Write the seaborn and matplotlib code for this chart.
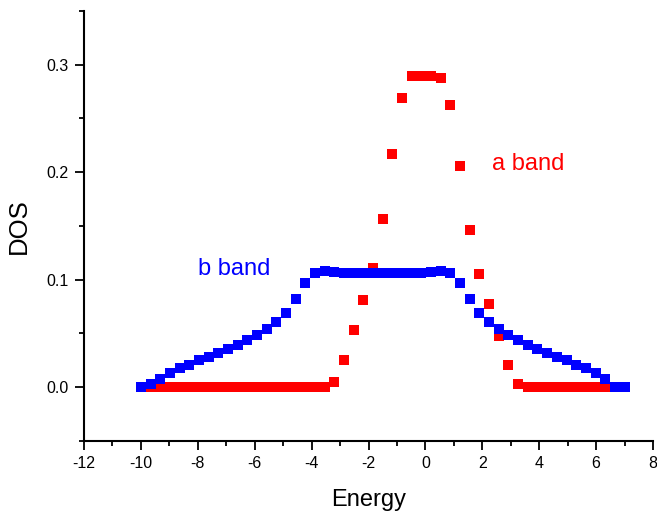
import matplotlib
matplotlib.use("Agg")
import matplotlib.pyplot as plt
import seaborn as sns
import pandas as pd
from matplotlib.ticker import MultipleLocator

# Datos
energy = [-10.00, -9.66, -9.32, -8.98, -8.64, -8.30, -7.96, -7.62, -7.28, -6.94,
          -6.60, -6.26, -5.92, -5.58, -5.24, -4.90, -4.56, -4.22, -3.88, -3.54,
          -3.20, -2.86, -2.52, -2.18, -1.84, -1.50, -1.16, -0.82, -0.48, -0.14,
          0.20, 0.54, 0.88, 1.22, 1.56, 1.90, 2.24, 2.58, 2.92, 3.26,
          3.60, 3.94, 4.28, 4.62, 4.96, 5.30, 5.64, 5.98, 6.32, 6.66, 7.00]

dos_a = [0, 0, 0, 0, 0, 0, 0, 0, 0, 0,
         0, 0, 0, 0, 0, 0, 0, 0, 0, 0,
         0.005, 0.025, 0.0535, 0.081, 0.111, 0.156, 0.217, 0.269, 0.289, 0.289,
         0.289, 0.287, 0.262, 0.206, 0.146, 0.1055, 0.077, 0.048, 0.021, 0.003,
         0, 0, 0, 0, 0, 0, 0, 0, 0, 0, 0]

dos_b = [0, 0.003, 0.008, 0.0133, 0.0174, 0.021, 0.025, 0.028, 0.032, 0.0356,
         0.0396, 0.0443, 0.049, 0.054, 0.061, 0.069, 0.082, 0.0966, 0.1061, 0.108,
         0.107, 0.106, 0.1058, 0.1058, 0.1058, 0.1058, 0.1058, 0.1058, 0.1058, 0.1058,
         0.1075, 0.108, 0.106, 0.0966, 0.082, 0.069, 0.061, 0.054, 0.049, 0.0443,
         0.0396, 0.0356, 0.032, 0.028, 0.025, 0.021, 0.0176, 0.0133, 0.008, 0, 0]

df = pd.DataFrame({"Energy": energy, "a": dos_a, "b": dos_b})

sns.set_style("ticks")
plt.rcParams["font.family"] = ["Liberation Sans", "DejaVu Sans"]
plt.rcParams["axes.unicode_minus"] = False

fig = plt.figure(figsize=(6.57, 5.11), dpi=100)
ax = fig.add_axes([0.1279, 0.137, 0.866, 0.842])

sns.scatterplot(data=df, x="Energy", y="a", marker="s", color="#ff0000",
                s=49, linewidth=0, ax=ax, clip_on=False)
sns.scatterplot(data=df, x="Energy", y="b", marker="s", color="#0000ff",
                s=49, linewidth=0, ax=ax, clip_on=False)

ax.text(2.34, 0.2015, "a band", color="#ff0000", fontsize=17)
ax.text(-7.98, 0.104, "b band", color="#0000ff", fontsize=17)

ax.set_xlim(-12, 8)
ax.set_ylim(-0.05, 0.35)
ax.xaxis.set_major_locator(MultipleLocator(2))
ax.xaxis.set_minor_locator(MultipleLocator(1))
ax.yaxis.set_minor_locator(MultipleLocator(0.05))
ax.set_yticks([0.0, 0.1, 0.2, 0.3])
ax.set_yticklabels(["0.0", "0.1", "0.2", "0.3"])

sns.despine(ax=ax)
for side in ["left", "bottom"]:
    ax.spines[side].set_linewidth(1.5)
    ax.spines[side].set_color("black")
ax.tick_params(which="major", direction="out", length=6.5, width=1.3,
               labelsize=11.5, pad=4.5, colors="black")
ax.tick_params(which="minor", direction="out", length=3.6, width=1.3, colors="black")

ax.set_xlabel("Energy", fontsize=17, labelpad=13, color="black")
ax.set_ylabel("DOS", fontsize=18.5, labelpad=11, color="black")

fig.savefig("out.png", dpi=100)
plt.close(fig)
